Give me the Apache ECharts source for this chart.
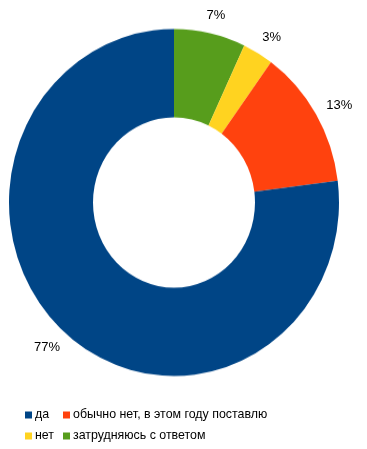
<!DOCTYPE html>
<html><head><meta charset="utf-8">
<script src="https://cdn.jsdelivr.net/npm/echarts@6/dist/echarts.min.js"></script>
<style>
html,body{margin:0;padding:0;background:#fff}
#wrap{position:relative;width:367px;height:449px;overflow:hidden}
#p,#t{position:absolute;left:0;top:0;width:367px;height:449px}
#p{transform:scaleY(1.0515);transform-origin:174px 202.5px}
</style>
</head><body><div id="wrap"><div id="p"></div><div id="t"></div></div>
<script>
const categories = ['затрудняюсь с ответом', 'нет', 'обычно нет, в этом году поставлю', 'да'];
const values = [7, 3, 13, 77];
const colors = ['#579d1c', '#ffd320', '#ff420e', '#004586'];
const legendCol1 = ['да', 'нет'];
const legendCol2 = ['обычно нет, в этом году поставлю', 'затрудняюсь с ответом'];

const font = 'Liberation Sans, Arial, sans-serif';
const colorOf = n => colors[categories.indexOf(n)];

// Donut layer (stretched vertically by CSS to reproduce the slightly oval reference)
const pie = echarts.init(document.getElementById('p'), null, { renderer: 'canvas' });
pie.setOption({
  animation: false,
  series: [{
    type: 'pie', center: [174, 202.5], radius: [81, 165], startAngle: 90, clockwise: true,
    data: categories.map((n, i) => ({ name: n, value: values[i], itemStyle: { color: colors[i] } })),
    label: { show: false }, labelLine: { show: false },
    emphasis: { disabled: true }, silent: true
  }]
});

// Text layer: percentage labels and legend
const txt = echarts.init(document.getElementById('t'), null, { renderer: 'canvas' });
const legendBase = {
  orient: 'vertical', top: 409, itemWidth: 7, itemHeight: 7, itemGap: 9,
  icon: 'rect', textStyle: { fontFamily: font, fontSize: 12.4, color: '#000', padding: [0, 0, 0, -2] },
  selectedMode: false, padding: 0
};
const legendItems = names => names.map(n => ({ name: n, itemStyle: { color: colorOf(n), opacity: 1 } }));
txt.setOption({
  animation: false,
  legend: [
    Object.assign({}, legendBase, { left: 25, data: legendItems(legendCol1) }),
    Object.assign({}, legendBase, { left: 63, data: legendItems(legendCol2) })
  ],
  series: [{
    type: 'pie', center: [174, 203], radius: [180, 198], startAngle: 90, clockwise: true,
    data: categories.map((n, i) => ({ name: n, value: values[i], itemStyle: { color: 'rgba(255,255,255,0)' } })),
    label: { show: true, position: 'inside', formatter: p => p.value + '%', fontFamily: font, fontSize: 13, color: '#000' },
    labelLine: { show: false }, emphasis: { disabled: true }, silent: true, legendHoverLink: false
  }]
});
</script></body></html>
